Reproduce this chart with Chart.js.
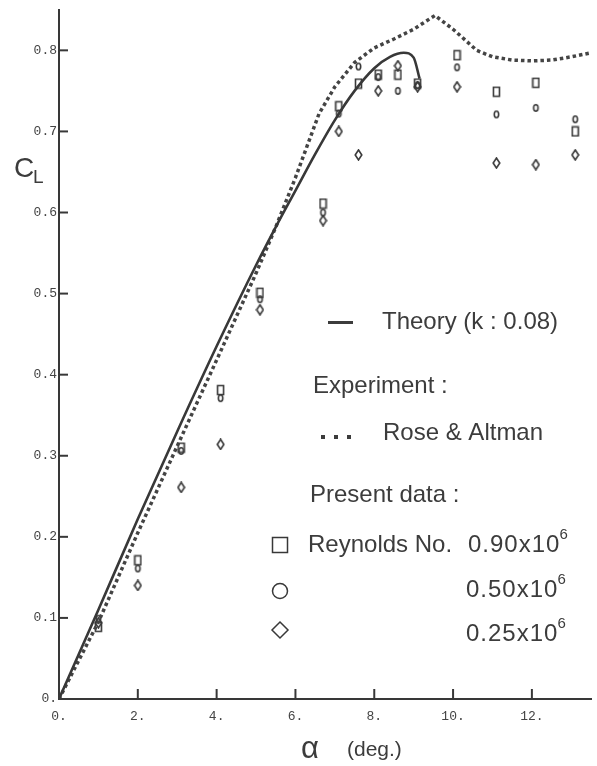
<!DOCTYPE html>
<html>
<head>
<meta charset="utf-8">
<script src="https://cdn.jsdelivr.net/npm/chart.js@4.4.1/dist/chart.umd.min.js"></script>
<style>
  body { margin: 0; background: #fff; }
  canvas { display: block; }
</style>
</head>
<body>
<canvas id="clChart" width="597" height="766"></canvas>
<script>
// data: lift coefficient CL vs angle of attack (deg.)
var theoryAlpha = [0, 1, 2, 3, 4, 5, 5.5, 6, 6.5, 7, 7.5, 8, 8.4, 8.75, 9.0, 9.15];
var theoryCL    = [0, 0.110, 0.222, 0.330, 0.435, 0.535, 0.582, 0.627, 0.672, 0.714, 0.750, 0.778, 0.792, 0.797, 0.791, 0.765];

var roseAlpha = [0, 1, 2, 3, 4, 5, 5.5, 6, 6.6, 7, 7.5, 8, 8.5, 9, 9.54, 10, 10.6, 11, 11.5, 12, 12.5, 13, 13.5];
var roseCL    = [0, 0.095, 0.205, 0.312, 0.418, 0.525, 0.582, 0.643, 0.722, 0.755, 0.785, 0.803, 0.814, 0.826, 0.843, 0.826, 0.800, 0.792, 0.788, 0.787, 0.788, 0.792, 0.797];

var expAlpha = [1, 2, 3.1, 4.1, 5.1, 6.7, 7.1, 7.6, 8.1, 8.6, 9.1, 10.1, 11.1, 12.1, 13.1];
var re090 = [0.089, 0.171, 0.310, 0.381, 0.501, 0.611, 0.731, 0.759, 0.770, 0.770, 0.759, 0.794, 0.749, 0.760, 0.700];
var re050 = [0.099, 0.161, 0.306, 0.371, 0.493, 0.600, 0.722, 0.780, 0.767, 0.750, 0.757, 0.779, 0.721, 0.729, 0.715];
var re025 = [0.094, 0.140, 0.261, 0.314, 0.480, 0.590, 0.700, 0.671, 0.750, 0.781, 0.755, 0.755, 0.661, 0.659, 0.671];

var xTicks = [0, 2, 4, 6, 8, 10, 12];
var xTickLabels = ['0.', '2.', '4.', '6.', '8.', '10.', '12.'];
var yTicks = [0, 0.1, 0.2, 0.3, 0.4, 0.5, 0.6, 0.7, 0.8];
var yTickLabels = ['0.', '0.1', '0.2', '0.3', '0.4', '0.5', '0.6', '0.7', '0.8'];

var ink = '#383838';

function pts(xs, ys) {
    return xs.map(function (x, i) { return { x: x, y: ys[i] }; });
}

// small hand drawn markers, a bit taller than wide like the plotter ones
function marker(kind) {
    var c = document.createElement('canvas');
    c.width = 9; c.height = 12;
    var g = c.getContext('2d');
    g.strokeStyle = ink;
    g.lineWidth = 1.6;
    g.beginPath();
    if (kind === 'square') {
        g.rect(1.5, 1.5, 6, 9);
    } else if (kind === 'circle') {
        g.ellipse(4.5, 6, 2.2, 3.2, 0, 0, Math.PI * 2);
    } else {
        g.moveTo(4.5, 1); g.lineTo(7.8, 6); g.lineTo(4.5, 11); g.lineTo(1.2, 6); g.closePath();
    }
    g.stroke();
    return c;
}

function scatterSet(label, ys, kind) {
    return {
        label: label,
        data: pts(expAlpha, ys),
        showLine: false,
        pointStyle: marker(kind),
        pointRadius: 5,
        borderColor: ink,
        backgroundColor: 'transparent'
    };
}

// inward tick marks, axis titles and the hand placed legend
var decorations = {
    id: 'decorations',
    afterDraw: function (chart) {
        var ctx = chart.ctx;
        var xs = chart.scales.x, ys = chart.scales.y;
        var area = chart.chartArea;
        ctx.save();
        ctx.strokeStyle = ink;
        ctx.lineWidth = 2;
        yTicks.forEach(function (v) {
            if (v === 0) return;
            var py = ys.getPixelForValue(v);
            ctx.beginPath(); ctx.moveTo(area.left, py); ctx.lineTo(area.left + 9, py); ctx.stroke();
        });
        xTicks.forEach(function (v) {
            if (v === 0) return;
            var px = xs.getPixelForValue(v);
            ctx.beginPath(); ctx.moveTo(px, area.bottom); ctx.lineTo(px, area.bottom - 10); ctx.stroke();
        });

        ctx.fillStyle = '#3c3c3c';
        ctx.textBaseline = 'alphabetic';
        // axis titles
        ctx.font = '28px "Liberation Sans"';
        ctx.fillText('C', 14, 177);
        ctx.font = '19px "Liberation Sans"';
        ctx.fillText('L', 33, 183);
        ctx.font = '31px "Liberation Sans"';
        ctx.fillText('α', 301, 758);
        ctx.font = '21px "Liberation Sans"';
        ctx.fillText('(deg.)', 347, 756);

        // legend
        ctx.font = '24px "Liberation Sans"';
        ctx.fillRect(328, 321, 25, 3);
        ctx.fillText('Theory (k : 0.08)', 382, 329);
        ctx.fillText('Experiment :', 313, 393);
        [321, 334, 347].forEach(function (dx) { ctx.fillRect(dx, 435, 4, 4); });
        ctx.fillText('Rose & Altman', 383, 440);
        ctx.fillText('Present data :', 310, 502);
        ctx.fillText('Reynolds No.', 308, 552);

        ctx.lineWidth = 1.5;
        ctx.strokeRect(272.5, 537.5, 15, 15);
        ctx.beginPath(); ctx.arc(280, 591, 7.5, 0, Math.PI * 2); ctx.stroke();
        ctx.beginPath();
        ctx.moveTo(280, 622); ctx.lineTo(288, 630); ctx.lineTo(280, 638); ctx.lineTo(272, 630); ctx.closePath();
        ctx.stroke();

        var reLabels = [['0.90x10', 468, 552], ['0.50x10', 466, 597], ['0.25x10', 466, 641]];
        reLabels.forEach(function (r) {
            ctx.font = '24px "Liberation Sans"';
            ctx.letterSpacing = '1px';
            ctx.fillText(r[0], r[1], r[2]);
            var w = ctx.measureText(r[0]).width;
            ctx.letterSpacing = '0px';
            ctx.font = '15px "Liberation Sans"';
            ctx.fillText('6', r[1] + w - 1, r[2] - 13);
        });
        ctx.restore();
    }
};

var clConfig = {
    type: 'line',
    data: {
        datasets: [{
            label: 'Theory (k : 0.08)',
            data: pts(theoryAlpha, theoryCL),
            borderColor: ink,
            borderWidth: 2.6,
            pointRadius: 0,
            cubicInterpolationMode: 'monotone'
        }, {
            label: 'Rose & Altman',
            data: pts(roseAlpha, roseCL),
            borderColor: '#444',
            borderWidth: 3.5,
            borderDash: [3.5, 3],
            borderCapStyle: 'butt',
            pointRadius: 0,
            tension: 0
        },
            scatterSet('0.90x10^6', re090, 'square'),
            scatterSet('0.50x10^6', re050, 'circle'),
            scatterSet('0.25x10^6', re025, 'diamond')
        ]
    },
    options: {
        responsive: false,
        animation: false,
        devicePixelRatio: 1,
        layout: { padding: { top: 9, left: 0, right: 0, bottom: 0 } },
        plugins: { legend: { display: false }, tooltip: { enabled: false } },
        scales: {
            x: {
                type: 'linear',
                min: 0,
                max: 13.5,
                afterBuildTicks: function (scale) {
                    scale.ticks = xTicks.map(function (v) { return { value: v }; });
                },
                afterFit: function (scale) { scale.height = 67; },
                grid: { display: false, drawTicks: false },
                border: { display: true, color: ink, width: 2 },
                ticks: {
                    padding: 10,
                    color: '#444',
                    font: { family: '"Liberation Mono"', size: 13 },
                    maxRotation: 0,
                    callback: function (v, i) { return xTickLabels[i]; }
                }
            },
            y: {
                type: 'linear',
                min: 0,
                max: 0.85,
                afterBuildTicks: function (scale) {
                    scale.ticks = yTicks.map(function (v) { return { value: v }; });
                },
                afterFit: function (scale) { scale.width = 59; },
                grid: { display: false, drawTicks: false },
                border: { display: true, color: ink, width: 2 },
                ticks: {
                    padding: 2,
                    color: '#444',
                    font: { family: '"Liberation Mono"', size: 13 },
                    callback: function (v, i) { return yTickLabels[i]; }
                }
            }
        }
    },
    plugins: [decorations]
};

var ctxCL = document.getElementById('clChart').getContext('2d');
var clChart = new Chart(ctxCL, clConfig);
</script>
</body>
</html>
